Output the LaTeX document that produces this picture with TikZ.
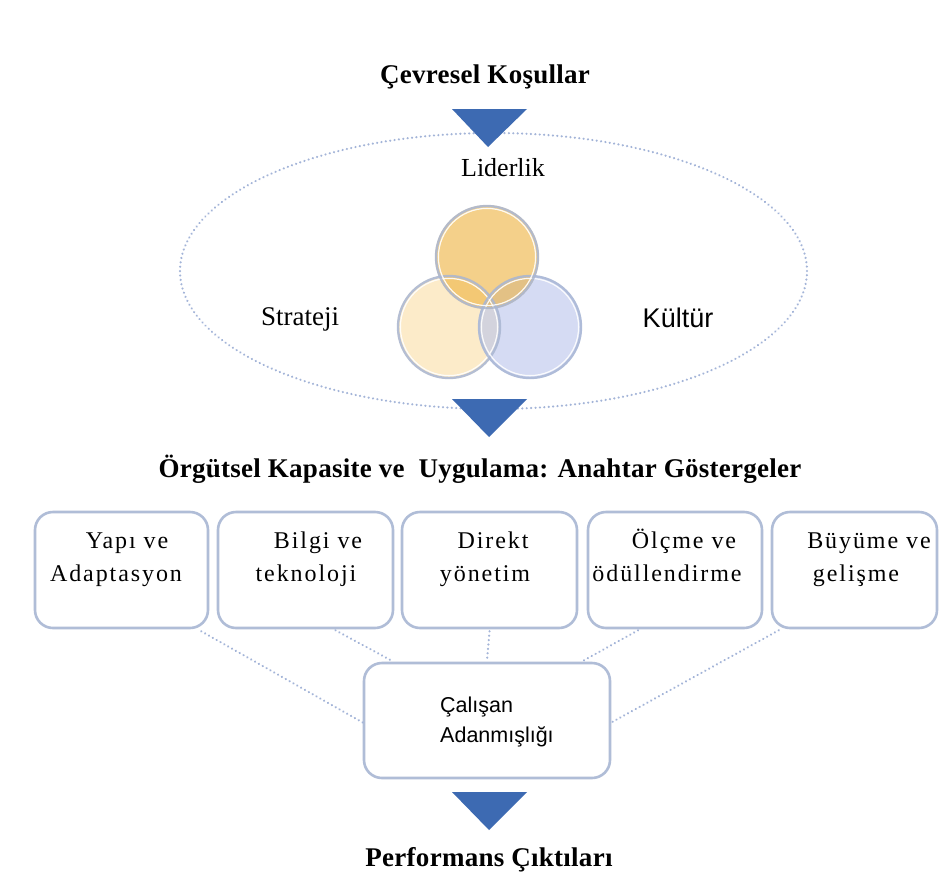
\documentclass[tikz,border=0pt]{standalone}
\usepackage{fontspec}
\setmainfont{Liberation Serif}
\newfontfamily\headfont[LetterSpace=1]{Liberation Serif}
\newfontfamily\boxfont[LetterSpace=8]{Liberation Serif}
\newfontfamily\sansfnt{Liberation Sans}
\usetikzlibrary{shapes.geometric,calc}
\definecolor{tri}{HTML}{3D6AB2}
\definecolor{dotc}{HTML}{A3B4D8}
\definecolor{boxc}{HTML}{B0BDD7}
\definecolor{ringc}{HTML}{A9B7D5}
\definecolor{ctop}{HTML}{EDB13C}
\definecolor{cleft}{HTML}{FADEA5}
\definecolor{cright}{HTML}{B9C3EB}
\begin{document}
\begin{tikzpicture}[x=1pt,y=-1pt,
  head/.style={font=\headfont\bfseries\fontsize{27}{31}\selectfont, inner sep=0pt, anchor=base},
  lbl/.style={font=\fontsize{26}{30}\selectfont, inner sep=0pt, anchor=base},
  boxtxt/.style={font=\boxfont\fontsize{24}{28}\selectfont, inner sep=0pt, anchor=base},
  kbox/.style={draw=boxc, line width=2.6pt, fill=white, rounded corners=18pt, inner sep=0pt, minimum height=116pt},
  dotline/.style={draw=dotc, line width=2.4pt, line cap=round, dash pattern=on 0.01pt off 4.4pt},
  circ/.style={circle, inner sep=0pt, minimum size=104pt, fill opacity=0.6},
  ring/.style={draw=ringc, line width=2.4pt, draw opacity=0.85},
  tri/.style={fill=tri}
]
\useasboundingbox (0,0) rectangle (939,875);
\fill[white] (0,0) rectangle (939,875);

% environment ellipse
\node[ellipse, dotline, minimum width=627pt, minimum height=276pt, inner sep=0pt] (env) at (493.5,271) {};

% top heading and triangle
\node[head] (cev) at (485,84) {Çevresel Koşullar};
\fill[tri] (452,109) -- (527,109) -- (488,147) -- cycle;
\node[lbl] (lid) at (503,176) {Liderlik};
\node[lbl, font=\fontsize{27}{30}\selectfont] (str) at (300,325) {Strateji};
\node[lbl, font=\sansfnt\fontsize{27}{30}\selectfont] (kul) at (678,327) {Kültür};

% circles
\node[circ, fill=cleft] (cleft) at (449,327) {};
\node[circ, fill=cright] (cright) at (530,327) {};
\node[circ, fill=ctop] (ctop) at (487,257) {};
\foreach \c in {cleft,cright,ctop}{
  \draw[ring] (\c.center) circle[radius=51pt];
  \draw[white, line width=1.2pt, opacity=0.9] (\c.center) circle[radius=48.6pt];
}

% second triangle and heading
\fill[tri] (452,399) -- (527,399) -- (489,437) -- cycle;
\node[head] (org) at (480,477) {Örgütsel Kapasite ve\ \ Uygulama: Anahtar Göstergeler};

% boxes
\node[kbox, minimum width=173pt] (b1) at (121.5,570) {};
\node[kbox, minimum width=175pt] (b2) at (305.5,570) {};
\node[kbox, minimum width=175pt] (b3) at (489.5,570) {};
\node[kbox, minimum width=174pt] (b4) at (675,570) {};
\node[kbox, minimum width=165pt] (b5) at (854.5,570) {};

\node[boxtxt] (t1a) at (127,548) {Yapı ve};
\node[boxtxt] (t1b) at (116,581) {Adaptasyon};
\node[boxtxt] (t2a) at (318,548) {Bilgi ve};
\node[boxtxt] (t2b) at (306,581) {teknoloji};
\node[boxtxt] (t3a) at (493,548) {Direkt};
\node[boxtxt] (t3b) at (485,581) {yönetim};
\node[boxtxt] (t4a) at (684,548) {Ölçme ve};
\node[boxtxt] (t4b) at (667,581) {ödüllendirme};
\node[boxtxt] (t5a) at (869,548) {Büyüme ve};
\node[boxtxt] (t5b) at (856,581) {gelişme};

% central box
\node[kbox, minimum width=246pt, minimum height=115pt] (c) at (487,720.5) {};
\node[font=\sansfnt\fontsize{21.5}{25}\selectfont, inner sep=0pt, anchor=base west] (ca) at (440,712) {Çalışan};
\node[font=\sansfnt\fontsize{21.5}{25}\selectfont, inner sep=0pt, anchor=base west] (cb) at (440,742) {Adanmışlığı};

% dotted connectors
\draw[dotline] ([xshift=-8pt,yshift=-2pt]b1.south east) -- ([yshift=-2pt]c.west);
\draw[dotline] ([xshift=30pt,yshift=-1pt]b2.south) -- ([xshift=29pt,yshift=1pt]c.north west);
\draw[dotline] ([yshift=-2pt]b3.south) -- ([yshift=1pt]c.north);
\draw[dotline] ([xshift=-37pt,yshift=-1pt]b4.south) -- ([xshift=-28pt,yshift=1pt]c.north east);
\draw[dotline] ([xshift=8pt,yshift=-1pt]b5.south west) -- ([yshift=-2pt]c.east);

% bottom triangle and heading
\fill[tri] (452,792) -- (527,792) -- (489,830) -- cycle;
\node[head] (perf) at (489,866) {Performans Çıktıları};
\end{tikzpicture}
\end{document}
